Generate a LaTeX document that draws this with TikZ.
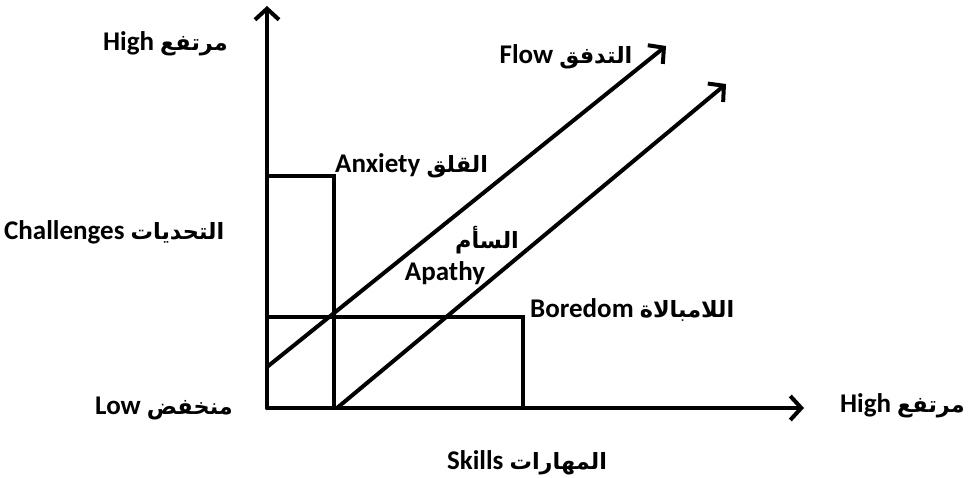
\documentclass[tikz,border=0pt]{standalone}
\usepackage{fontspec}
\setmainfont{Carlito}
\newfontfamily\arfont[Script=Arabic, Scale=0.83]{DejaVu Sans}
\TeXXeTstate=1
\usetikzlibrary{arrows.meta,positioning}

% Arabic word, right to left
\newcommand{\ar}[1]{{\arfont\bfseries\beginR #1\endR}}

\tikzset{
    axis/.style={line width=4pt, line cap=round, -{Straight Barb[length=11pt, width=24pt, line width=4pt]}},
    zone/.style={line width=4pt, line join=miter},
    lbl/.style={font=\fontsize{27}{31}\selectfont\bfseries, inner sep=0pt}
}

\begin{document}
\begin{tikzpicture}[x=1pt, y=-1pt]
        \useasboundingbox (0,0) rectangle (969,478);

        \coordinate (origin) at (267,408);
        \coordinate (ytip) at (267,6);
        \coordinate (xtip) at (804,408);
        \coordinate (flowstart) at (267,367);
        \coordinate (flowtip) at (666,46);
        \coordinate (apathystart) at (337,408);
        \coordinate (apathytip) at (726,84);

        % the two zones
        \draw[zone] (267,176) -| (334,408);
        \draw[zone] (267,317) -| (523,408);

        % axes
        \draw[axis] (origin) -- (ytip);
        \draw[axis] (origin) -- (xtip);

        % diagonal channel
        \draw[axis] (flowstart) -- (flowtip);
        \draw[axis] (apathystart) -- (apathytip);

        % axis labels
        \node (yhigh) [lbl, anchor=east] at (228,44) {High \ar{مرتفع}};
        \node (challenges) [lbl, anchor=west] at (4,232) {Challenges \ar{التحديات}};
        \node (ylow) [lbl, anchor=east] at (233,408) {Low \ar{منخفض}};
        \node (xhigh) [lbl, anchor=east] at (965,406) {High \ar{مرتفع}};
        \node (skills) [lbl] at (527,463) {Skills \ar{المهارات}};

        % zone labels
        \node (anxiety) [lbl, anchor=west] at (335,166) {Anxiety \ar{القلق}};
        \node (flow) [lbl] at (566,57) {Flow \ar{التدفق}};
        \node (apathyar) [lbl] at (487,240) {\ar{السأم}};
        \node (apathy) [lbl] at (445,273) {Apathy};
        \node (boredom) [lbl, anchor=west] at (530,310) {Boredom \ar{اللامبالاة}};
    \end{tikzpicture}
\end{document}
